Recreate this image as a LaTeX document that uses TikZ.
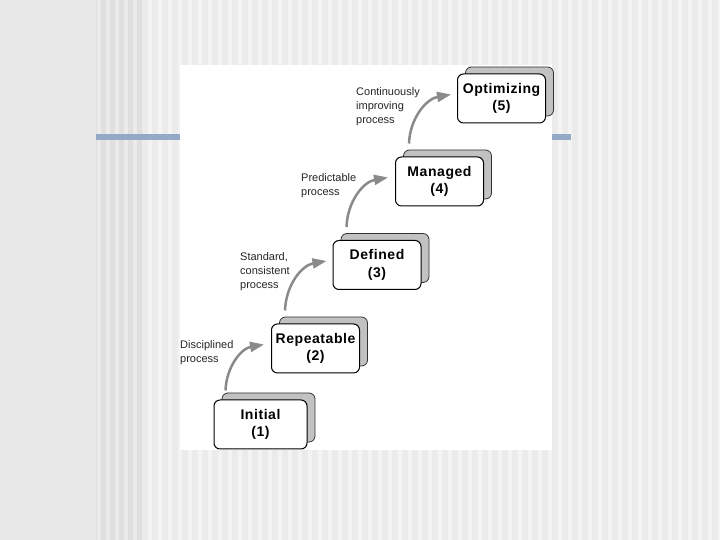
\documentclass[tikz,border=0pt]{standalone}
\usepackage{fontspec}
\setmainfont{Liberation Sans}
\newfontfamily\boxfont[LetterSpace=4]{Liberation Sans}
\usepackage{tikz}
\usetikzlibrary{shadows}
\usetikzlibrary{arrows.meta}
\usetikzlibrary{patterns.meta}
\definecolor{barblue}{HTML}{93A9C5}
\definecolor{stripedark}{HTML}{DFDFDF}
\definecolor{stripemid}{HTML}{EBEBEB}
\definecolor{stripelight}{HTML}{F3F3F3}
\definecolor{arrowgray}{HTML}{8A8A8A}
\definecolor{backgray}{HTML}{C2C2C2}
\tikzstyle{level}=[
        rectangle,
        rounded corners=6pt,
        draw=black,
        line width=1pt,
        fill=white,
        minimum width=88pt,
        minimum height=49pt,
        inner sep=0pt,
        align=center,
        font={\boxfont\bfseries\fontsize{14pt}{17.5pt}\selectfont},
        copy shadow={shadow xshift=8pt,shadow yshift=7pt,fill=backgray,draw=black!80,line width=0.8pt}
]
\tikzstyle{note}=[anchor=west,inner sep=0pt,align=left,text=black!85,
        font={\fontsize{11pt}{13.8pt}\selectfont}]
\tikzstyle{climb}=[-{Triangle[length=14pt,width=10pt]},draw=arrowgray,line width=2.5pt]

\begin{document}
\begin{tikzpicture}[x=1pt,y=1pt]
\useasboundingbox (0,0) rectangle (720,540);
%Background
\fill[stripemid] (0,0) rectangle (720,540);
\fill[pattern={Lines[angle=90,distance=10pt,line width=4pt]},pattern color=stripelight] (142,0) rectangle (720,540);
\fill[stripedark] (96,0) rectangle (142,540);
\fill[pattern={Lines[angle=90,distance=9pt,line width=4pt]},pattern color=stripemid] (96,0) rectangle (142,540);
\fill[black!9] (0,0) rectangle (96,540);
\fill[barblue] (96,399.5) rectangle (180,406);
\fill[barblue] (552,399.5) rectangle (571,406);
\fill[white] (180,90) rectangle (552,475);
%Levels
\node[level,minimum width=93pt] (l1) at (260.5,115.5) {Initial\\(1)};
\node[level] (l2) at (315.5,191.5) {Repeatable\\(2)};
\node[level] (l3) at (377,275) {Defined\\(3)};
\node[level] (l4) at (439.5,358.5) {Managed\\(4)};
\node[level] (l5) at (501.5,441.5) {Optimizing\\(5)};
%Notes
\node[note] (n1) at (180,187) {Disciplined\\process};
\node[note] (n2) at (240,268.5) {Standard,\\consistent\\process};
\node[note] (n3) at (301,354) {Predictable\\process};
\node[note] (n4) at (356,433.5) {Continuously\\improving\\process};
%Arrows
\draw[climb] ([shift={(12pt,9pt)}]l1.north west) to[out=88,in=190] ([shift={(-7pt,4pt)}]l2.west);
\draw[climb] ([shift={(14pt,13pt)}]l2.north west) to[out=88,in=190] ([shift={(-6pt,4pt)}]l3.west);
\draw[climb] ([shift={(14pt,13pt)}]l3.north west) to[out=88,in=190] ([shift={(-7pt,4pt)}]l4.west);
\draw[climb] ([shift={(14pt,13pt)}]l4.north west) to[out=88,in=190] ([shift={(-6pt,4pt)}]l5.west);
\end{tikzpicture}
\end{document}
